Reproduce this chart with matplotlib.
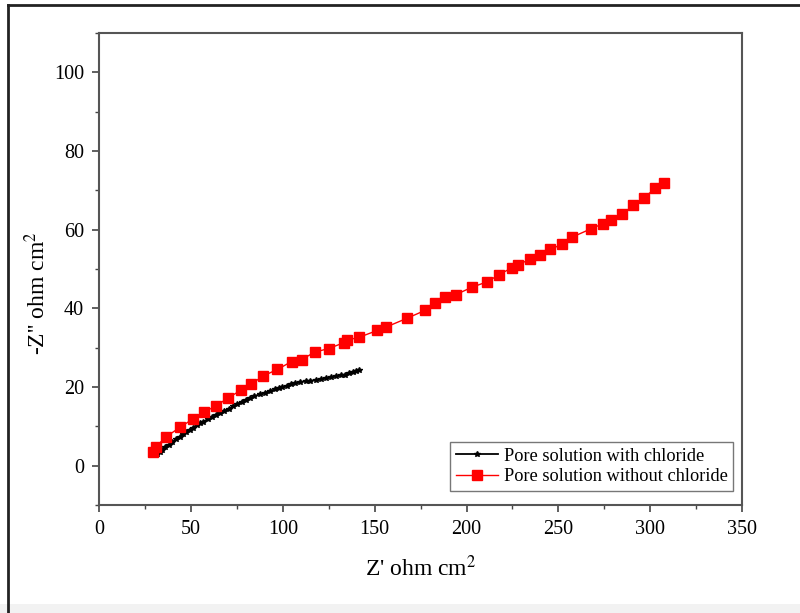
import matplotlib
matplotlib.use('Agg')
import matplotlib.pyplot as plt
from matplotlib.ticker import MultipleLocator
from matplotlib.lines import Line2D
from matplotlib.patches import Rectangle

plt.rcParams['font.family'] = ['Liberation Serif', 'DejaVu Serif']
plt.rcParams['mathtext.fontset'] = 'stix'

# Pore solution without chloride (red)
x_red = [29.3, 30.7, 36.2, 44.1, 51.3, 57.2, 63.6, 70.3, 77.2, 82.5, 89.2, 97.0,
         104.8, 110.2, 117.4, 124.9, 133.3, 134.7, 141.7, 151.4, 156.4, 167.6,
         177.4, 182.9, 188.2, 194.1, 203.0, 211.4, 217.8, 224.5, 228.1, 234.5,
         240.1, 245.7, 251.8, 257.4, 268.0, 274.1, 278.9, 284.7, 290.9, 296.4,
         302.6, 307.6]
y_red = [3.5, 4.7, 7.3, 9.8, 12.0, 13.7, 15.2, 17.3, 19.2, 20.7, 22.8, 24.5,
         26.5, 27.0, 28.9, 29.8, 31.3, 31.9, 32.7, 34.4, 35.3, 37.5,
         39.5, 41.3, 42.9, 43.5, 45.4, 46.8, 48.6, 50.3, 51.1, 52.5,
         53.5, 55.0, 56.3, 58.1, 60.3, 61.5, 62.5, 64.0, 66.2, 68.0,
         70.5, 72.0]

# Pore solution with chloride (black)
x_blk = [31.5, 33.0, 34.3, 36.0, 37.8, 39.9, 42.0, 43.8, 45.5, 47.5, 49.2, 51.0,
         53.0, 54.8, 56.6, 59.0, 61.2, 63.6, 66.0, 68.2, 70.6, 73.0, 75.2, 77.5,
         80.0, 82.2, 84.5, 87.5, 90.2, 92.9, 95.5, 97.8, 99.8, 102.3, 104.5, 106.8,
         109.5, 112.4, 115.0, 117.8, 120.7, 123.5, 126.3, 129.1, 131.5, 134.0,
         136.1, 138.2, 140.0, 141.2]
y_blk = [3.0, 3.4, 4.0, 4.8, 5.3, 6.0, 6.8, 7.4, 8.0, 8.7, 9.2, 9.7,
         10.3, 10.8, 11.2, 11.8, 12.4, 13.0, 13.5, 14.0, 14.5, 15.1, 15.7, 16.3,
         16.8, 17.2, 17.7, 18.2, 18.6, 19.0, 19.4, 19.7, 20.0, 20.4, 20.7, 21.0,
         21.3, 21.5, 21.6, 21.8, 22.0, 22.3, 22.5, 22.8, 23.0, 23.2,
         23.5, 23.8, 24.1, 24.3]

fig = plt.figure(figsize=(8, 6.13), dpi=100)
ax = fig.add_axes([0.124, 0.176, 0.8035, 0.77])

ax.plot(x_blk, y_blk, color='black', lw=1.3, marker='*', ms=4,
        label='Pore solution with chloride')
ax.plot(x_red, y_red, color='red', lw=1.0, marker='s', ms=6.5,
        label='Pore solution without chloride')

ax.set_xlim(0, 350)
ax.set_ylim(-10, 110)
ax.xaxis.set_major_locator(MultipleLocator(50))
ax.xaxis.set_minor_locator(MultipleLocator(25))
ax.yaxis.set_major_locator(MultipleLocator(20))
ax.yaxis.set_minor_locator(MultipleLocator(10))
ax.set_yticks([0, 20, 40, 60, 80, 100])
ax.tick_params(which='major', direction='out', length=5, width=1.2, pad=6,
               labelsize=14.5, color='#444444', top=False, right=False)
ax.tick_params(which='minor', direction='out', length=3, width=1.0,
               color='#444444', top=False, right=False)
for s in ax.spines.values():
    s.set_color('#555555')
    s.set_linewidth(1.5)

ax.set_xlabel("Z' ohm cm$^2$", fontsize=17, labelpad=12)
ax.set_ylabel("-Z'' ohm cm$^2$", fontsize=17)
ax.yaxis.set_label_coords(-0.077, 0.45)

leg = ax.legend(loc='lower right', bbox_to_anchor=(0.986, 0.03), fontsize=13.2,
                fancybox=False, framealpha=1, edgecolor='#777777',
                handlelength=2.3, handletextpad=0.3, borderpad=0.3,
                labelspacing=0.2, borderaxespad=0)
leg.get_frame().set_linewidth(1.0)

# outer frame of the picture: left and top lines, grey strip at the bottom
fig.add_artist(Line2D([0.01, 0.01], [0.0, 0.992], transform=fig.transFigure,
                      color='#222222', lw=2.0))
fig.add_artist(Line2D([0.01, 1.0], [0.992, 0.992], transform=fig.transFigure,
                      color='#222222', lw=2.0))
fig.patches.append(Rectangle((0.0, 0.0), 1.0, 0.015, transform=fig.transFigure,
                             facecolor='#f2f2f2', edgecolor='none'))

fig.savefig('out.png', dpi=100)
